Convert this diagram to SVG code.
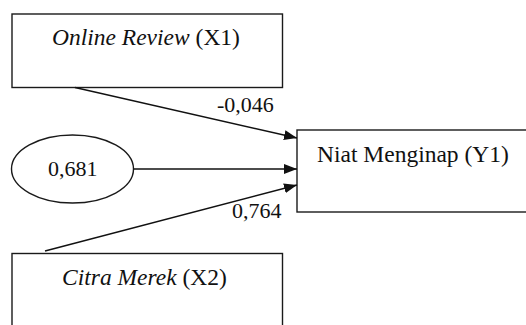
<svg xmlns="http://www.w3.org/2000/svg" width="526" height="325" viewBox="0 0 526 325">
<style>
.box{fill:#fff;stroke:#1a1a1a;stroke-width:1.4}
text{font-family:'Liberation Serif','DejaVu Serif',serif;fill:#111}
.lbl{font-size:23.5px}
.num{font-size:22px}
.edge{stroke:#111;stroke-width:1.4;fill:none;marker-end:url(#arr)}
</style>
<defs>
<marker id="arr" markerUnits="userSpaceOnUse" markerWidth="14" markerHeight="10" refX="13" refY="5" orient="auto">
<path d="M0,0 L13,5 L0,10 Z" fill="#111"/>
</marker>
</defs>
<rect width="526" height="325" fill="#fff"/>
<g id="x1">
<rect class="box" x="12" y="14" width="270.5" height="73.5"/>
<text class="lbl" x="52" y="45" font-family="Liberation Serif, serif"><tspan font-style="italic">Online Review</tspan> (X1)</text>
</g>
<g id="e">
<ellipse class="box" cx="72.5" cy="169" rx="61" ry="34"/>
<text class="num" x="48" y="176" font-family="Liberation Serif, serif">0,681</text>
</g>
<g id="y1">
<rect class="box" x="297" y="130" width="240" height="82"/>
<text class="lbl" x="317" y="162" font-family="Liberation Serif, serif">Niat Menginap (Y1)</text>
</g>
<g id="x2">
<rect class="box" x="12" y="253.5" width="270.5" height="90"/>
<text class="lbl" x="62" y="285" font-family="Liberation Serif, serif"><tspan font-style="italic">Citra Merek</tspan> (X2)</text>
</g>
<g id="connectors">
<line class="edge" x1="75" y1="87.5" x2="297" y2="138"/>
<line class="edge" x1="133.5" y1="169" x2="297" y2="169"/>
<line class="edge" x1="45" y1="251" x2="297" y2="185"/>
<text class="num" x="217" y="112" font-family="Liberation Serif, serif">-0,046</text>
<text class="num" x="232" y="218" font-family="Liberation Serif, serif">0,764</text>
</g>
</svg>
